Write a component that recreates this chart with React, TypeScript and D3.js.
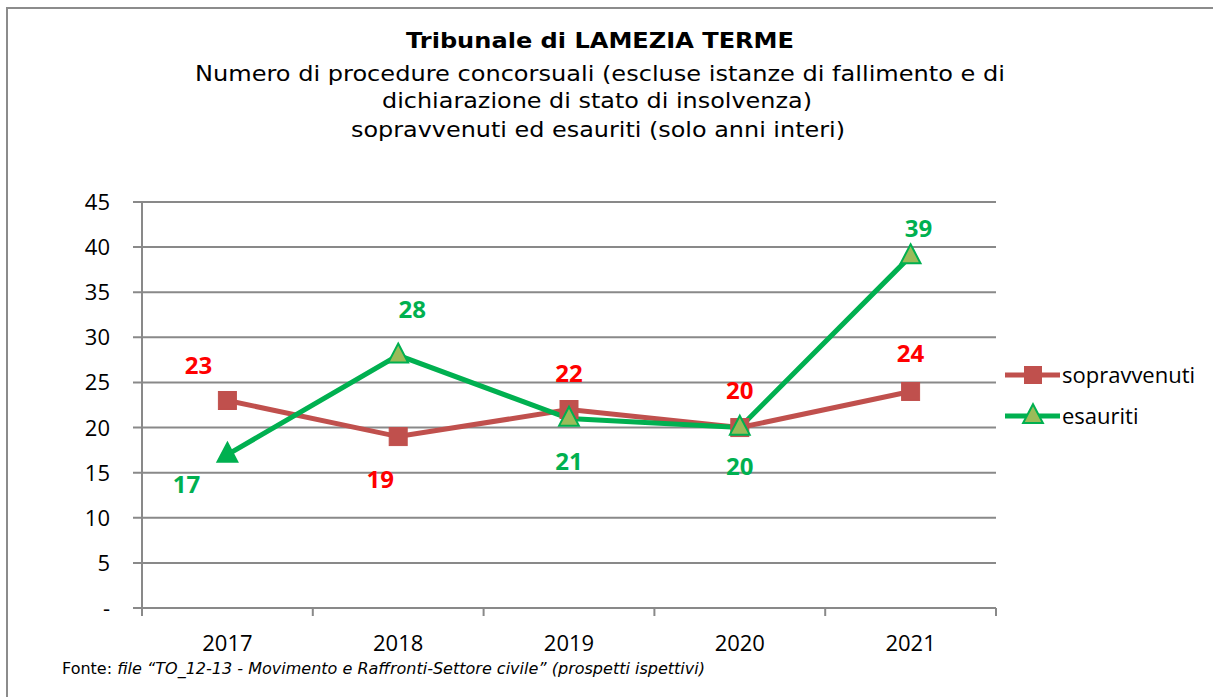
import React from "react";
import * as d3 from "d3";

const categories = ["2017", "2018", "2019", "2020", "2021"];
const sopravvenuti = [23, 19, 22, 20, 24];
const esauriti = [17, 28, 21, 20, 39];
const yTicks = [0, 5, 10, 15, 20, 25, 30, 35, 40, 45];
const seriesNames = ["sopravvenuti", "esauriti"];
// label offsets (dx, dy) relative to the point
const sopLabelOffsets = [[-29, -35], [-18, 42], [0, -37], [0, -38], [0, -38]];
const esaLabelOffsets = [[-41, 29], [14, -46], [0, 42], [0, 38], [8, -28]];

const W = 1213, H = 697;
const left = 142, right = 996, top = 202, bottom = 608;

export default function App() {
  const x = d3.scaleBand().domain(categories).range([left, right]);
  const y = d3.scaleLinear().domain([0, 45]).range([bottom, top]);
  const cx = (c: string) => (x(c) as number) + x.bandwidth() / 2;
  const line = d3.line<number>().x((_, i) => cx(categories[i])).y((d) => y(d));
  const grid = "#898989";
  const red = "#C0504D";
  const green = "#00B050";
  const olive = "#9BBB59";
  const labelFont = "'Open Sans', 'Liberation Sans', sans-serif";
  const tri = (px: number, py: number, s: number) =>
    `M${px},${py - s * 0.6}L${px + s * 0.55},${py + s * 0.45}L${px - s * 0.55},${py + s * 0.45}Z`;
  const boundaries = [...categories.map((c) => x(c) as number), right];

  return (
    <svg width={W} height={H} style={{ position: "absolute", left: 0, top: 0, background: "#fff" }}>
      <rect x={0} y={0} width={W} height={H} fill="#fff" />
      <line x1={6} x2={W} y1={8} y2={8} stroke="#8c8c8c" strokeWidth={2} />
      <line x1={7} x2={7} y1={7} y2={H} stroke="#8c8c8c" strokeWidth={2} />
      <g fontFamily="'DejaVu Sans', Verdana, sans-serif" textAnchor="middle" fill="#000">
        <text x={600} y={48} fontSize={22} fontWeight="bold" textLength={388} lengthAdjust="spacingAndGlyphs">
          Tribunale di LAMEZIA TERME
        </text>
        <text x={600} y={81} fontSize={22} textLength={810} lengthAdjust="spacingAndGlyphs">
          Numero di procedure concorsuali (escluse istanze di fallimento e di
        </text>
        <text x={597} y={108} fontSize={22} textLength={430} lengthAdjust="spacingAndGlyphs">
          dichiarazione di stato di insolvenza)
        </text>
        <text x={598} y={137} fontSize={22} textLength={494} lengthAdjust="spacingAndGlyphs">
          sopravvenuti ed esauriti (solo anni interi)
        </text>
      </g>
      {yTicks.map((t) => (
        <g key={t}>
          <line x1={left - 9} x2={right} y1={y(t)} y2={y(t)} stroke={grid} strokeWidth={2} />
          <text
            x={110}
            y={y(t) + 8}
            textAnchor="end"
            fontSize={22}
            fontFamily={labelFont}
            fill="#000"
          >
            {t === 0 ? "-" : t}
          </text>
        </g>
      ))}
      <line x1={left} x2={left} y1={top} y2={bottom + 8} stroke={grid} strokeWidth={2} />
      {boundaries.map((b, i) => (
        <line key={i} x1={b} x2={b} y1={bottom} y2={bottom + 8} stroke={grid} strokeWidth={2} />
      ))}
      {categories.map((c) => (
        <text key={c} x={cx(c)} y={651} textAnchor="middle" fontSize={22} fontFamily={labelFont} fill="#000">
          {c}
        </text>
      ))}
      <path d={line(sopravvenuti) as string} fill="none" stroke={red} strokeWidth={5} />
      <path d={line(esauriti) as string} fill="none" stroke={green} strokeWidth={5} />
      {sopravvenuti.map((v, i) => (
        <rect
          key={i}
          x={cx(categories[i]) - 9}
          y={y(v) - 9}
          width={18}
          height={18}
          fill={red}
          stroke={red}
          strokeWidth={1}
        />
      ))}
      {esauriti.map((v, i) => (
        <path
          key={i}
          d={tri(cx(categories[i]), y(v) - 1, 18)}
          fill={i === 0 ? green : olive}
          stroke={green}
          strokeWidth={2}
        />
      ))}
      {sopravvenuti.map((v, i) => (
        <text
          key={i}
          x={cx(categories[i]) + sopLabelOffsets[i][0]}
          y={y(v) + sopLabelOffsets[i][1] + 9}
          textAnchor="middle"
          fontSize={24}
          fontWeight="bold"
          fontFamily={labelFont}
          fill="#FF0000"
        >
          {v}
        </text>
      ))}
      {esauriti.map((v, i) => (
        <text
          key={i}
          x={cx(categories[i]) + esaLabelOffsets[i][0]}
          y={y(v) + esaLabelOffsets[i][1] + 9}
          textAnchor="middle"
          fontSize={24}
          fontWeight="bold"
          fontFamily={labelFont}
          fill={green}
        >
          {v}
        </text>
      ))}
      <g>
        <line x1={1005} x2={1060} y1={375} y2={375} stroke={red} strokeWidth={5} />
        <rect x={1024} y={366} width={18} height={18} fill={red} />
        <text x={1062} y={383} fontSize={22} fontFamily={labelFont} fill="#000">
          {seriesNames[0]}
        </text>
        <line x1={1005} x2={1060} y1={416} y2={416} stroke={green} strokeWidth={5} />
        <path d={tri(1033, 415, 18)} fill={olive} stroke={green} strokeWidth={2} />
        <text x={1062} y={424} fontSize={22} fontFamily={labelFont} fill="#000">
          {seriesNames[1]}
        </text>
      </g>
      <text x={62} y={674} fontSize={15} fontFamily="'DejaVu Sans', Verdana, sans-serif" fill="#000" textLength={643} lengthAdjust="spacingAndGlyphs">
        Fonte: <tspan fontStyle="italic">file “TO_12-13 - Movimento e Raffronti-Settore civile” (prospetti ispettivi)</tspan>
      </text>
    </svg>
  );
}
